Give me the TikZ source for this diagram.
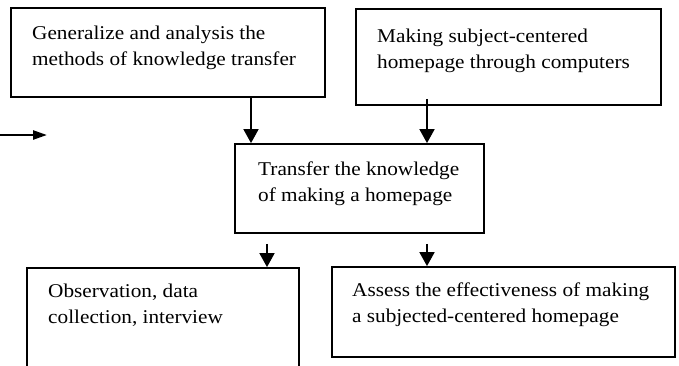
\documentclass[tikz,border=0pt]{standalone}
\usepackage{fontspec}
\setmainfont{Liberation Serif}[FakeStretch=1.09]
\usetikzlibrary{arrows.meta}
\begin{document}
\begin{tikzpicture}[x=1pt,y=-1pt,
  box/.style={draw=black,line width=1.8pt,rectangle,inner sep=0pt},
  txt/.style={anchor=base west,inner sep=0pt,align=left,font=\fontsize{19.5}{25.5}\selectfont},
  arr/.style={line width=1.8pt,-{Triangle[length=14pt,width=15pt]}}]
\clip (0,0) rectangle (679,365);
\fill[white] (0,0) rectangle (679,365);
% boxes
\node[box,minimum width=314pt,minimum height=89pt] (b1) at (168,52.5) {};
\node[box,minimum width=305pt,minimum height=96pt] (b2) at (508.5,57) {};
\node[box,minimum width=249pt,minimum height=89pt] (c) at (359.5,188.5) {};
\node[box,minimum width=272pt,minimum height=117pt] (b4) at (163,326.5) {};
\node[box,minimum width=343pt,minimum height=90pt] (b5) at (503.5,312) {};
% texts (anchored at the baseline of the last line)
\node[txt] (t1) at (32,65) {Generalize and analysis the\\methods of knowledge transfer};
\node[txt] (t2) at (377,68) {Making subject-centered\\homepage through computers};
\node[txt] (tc) at (258,201) {Transfer the knowledge\\of making a homepage};
\node[txt] (t4) at (48,323) {Observation, data\\collection, interview};
\node[txt] (t5) at (352,322) {Assess the effectiveness of making\\a subjected-centered homepage};
% arrow x positions
\coordinate (xa) at (251,0);
\coordinate (xb) at (427,0);
\coordinate (xc) at (267,0);
\coordinate (la) at (0,135);
\coordinate (lb) at (47,135);
\draw[arr] (b1.south -| xa) -- (c.north -| xa);
\draw[arr] ([yshift=7pt]b2.south -| xb) -- (c.north -| xb);
\draw[arr] ([yshift=-10pt]c.south -| xc) -- (b4.north -| xc);
\draw[arr] ([yshift=-10pt]c.south -| xb) -- (b5.north -| xb);
\draw[line width=2.4pt,-{Triangle[length=14pt,width=9pt]}] (la) -- (lb);
\end{tikzpicture}
\end{document}
